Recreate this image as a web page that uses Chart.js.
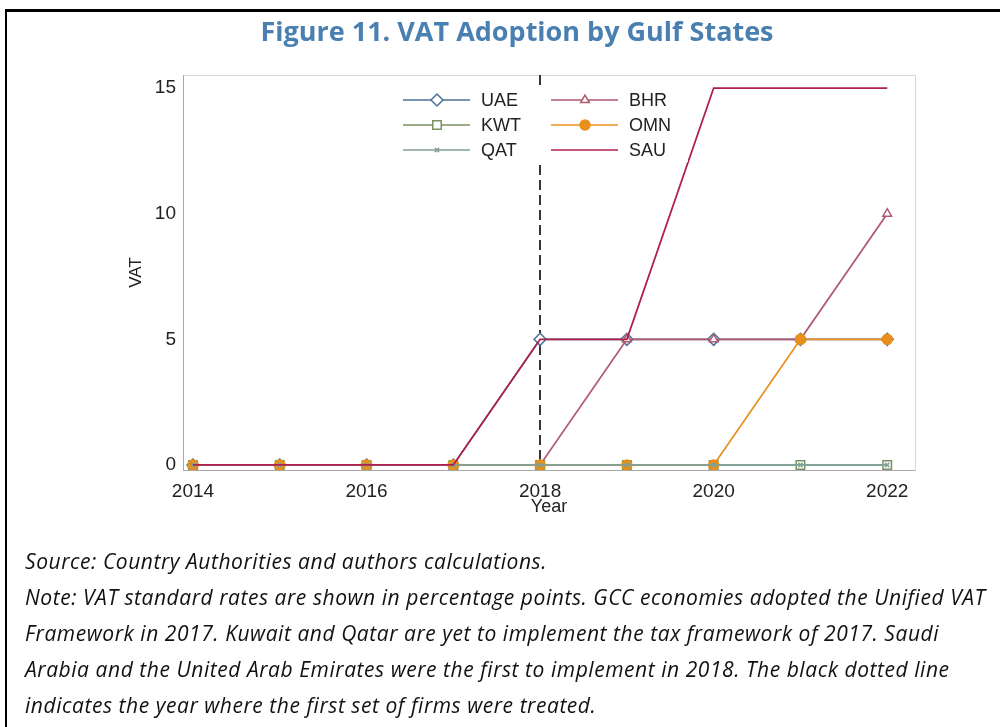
<!DOCTYPE html>
<html>
<head>
<meta charset="utf-8">
<script src="https://cdn.jsdelivr.net/npm/chart.js@4.4.1/dist/chart.umd.min.js"></script>
<style>
  html, body { margin: 0; padding: 0; background: #fff; }
  body { width: 1000px; height: 727px; position: relative; overflow: hidden; }
  #chart { position: absolute; left: 0; top: 0; }
  .frame-top { position: absolute; left: 5px; top: 9px; width: 995px; height: 3px; background: #000; }
  .frame-left { position: absolute; left: 5px; top: 9px; width: 2px; height: 718px; background: #000; }
  .title { position: absolute; left: 0; width: 1034px; top: 12px; text-align: center;
           font-family: "Open Sans", sans-serif; font-weight: 700; font-size: 27px;
           color: #4a7fb1; }
  .notes { position: absolute; left: 25px; top: 543px; width: 975px;
           font-family: "Open Sans", sans-serif; font-style: italic; font-size: 21px;
           letter-spacing: 0.55px; line-height: 36px; color: #111; }
  .notes div { white-space: nowrap; }
</style>
</head>
<body>
<canvas id="chart" width="1000" height="727"></canvas>
<div class="frame-top"></div>
<div class="frame-left"></div>
<div class="title">Figure 11. VAT Adoption by Gulf States</div>
<div class="notes">
  <div>Source: Country Authorities and authors calculations.</div>
  <div>Note: VAT standard rates are shown in percentage points. GCC economies adopted the Unified VAT</div>
  <div>Framework in 2017. Kuwait and Qatar are yet to implement the tax framework of 2017. Saudi</div>
  <div>Arabia and the United Arab Emirates were the first to implement in 2018. The black dotted line</div>
  <div>indicates the year where the first set of firms were treated.</div>
</div>
<script>
// data
const years = [2014, 2015, 2016, 2017, 2018, 2019, 2020, 2021, 2022]
const uae = [0, 0, 0, 0, 5, 5, 5, 5, 5]
const bhr = [0, 0, 0, 0, 0, 5, 5, 5, 10]
const kwt = [0, 0, 0, 0, 0, 0, 0, 0, 0]
const omn = [0, 0, 0, 0, 0, 0, 0, 5, 5]
const qat = [0, 0, 0, 0, 0, 0, 0, 0, 0]
const sau = [0, 0, 0, 0, 5, 5, 15, 15, 15]
const xTicks = [2014, 2016, 2018, 2020, 2022]
const yTicks = [0, 5, 10, 15]
const firstTreated = 2018

const toPoints = (vals) => years.map((x, i) => ({ x: x, y: vals[i] }))
const axisFont = '"Liberation Sans", Arial, sans-serif'

// legend layout follows Stata's two-column order
const series = [
  { label: 'UAE', data: uae, color: '#4b7299', style: 'rectRot', radius: 6, fill: '#fff', col: 0, row: 0, order: 6 },
  { label: 'BHR', data: bhr, color: '#b25a70', style: 'triangle', radius: 5, fill: '#fff', col: 1, row: 0, order: 5 },
  { label: 'KWT', data: kwt, color: '#7a9160', style: 'rect', radius: 6, fill: '#fff', col: 0, row: 1, order: 4 },
  { label: 'OMN', data: omn, color: '#e8901b', style: 'circle', radius: 5, fill: '#e8901b', col: 1, row: 1, order: 3 },
  { label: 'QAT', data: qat, color: '#80a197', style: 'crossRot', radius: 3, fill: '#fff', col: 0, row: 2, order: 2 },
  { label: 'SAU', data: sau, color: '#b01f4e', style: false, radius: 0, fill: '#fff', col: 1, row: 2, order: 1 }
]

const framePlugin = {
  id: 'frame',
  beforeDatasetsDraw(chart) {
    const { ctx, chartArea: a, scales } = chart
    ctx.save()
    ctx.strokeStyle = '#d6d6d6'
    ctx.lineWidth = 1
    ctx.strokeRect(a.left + 0.5, a.top + 0.5, a.right - a.left, a.bottom - a.top)
    ctx.strokeStyle = '#a8a8a8'
    ctx.beginPath()
    ctx.moveTo(a.left + 0.5, a.top)
    ctx.lineTo(a.left + 0.5, a.bottom + 0.5)
    ctx.lineTo(a.right, a.bottom + 0.5)
    ctx.stroke()
    // dashed marker for first treated year
    const x = Math.round(scales.x.getPixelForValue(firstTreated))
    ctx.strokeStyle = '#222'
    ctx.lineWidth = 1.8
    ctx.setLineDash([10, 5])
    ctx.beginPath()
    ctx.moveTo(x, a.top)
    ctx.lineTo(x, a.bottom)
    ctx.stroke()
    ctx.restore()
  }
}

const legendPlugin = {
  id: 'stataLegend',
  afterDatasetsDraw(chart) {
    const ctx = chart.ctx
    ctx.save()
    ctx.fillStyle = '#fff'
    ctx.fillRect(396, 87, 292, 75)
    ctx.font = '18px ' + axisFont
    ctx.textBaseline = 'middle'
    series.forEach(s => {
      const x0 = 403 + s.col * 148
      const y = 100 + s.row * 25
      ctx.strokeStyle = s.color
      ctx.lineWidth = 1.6
      ctx.beginPath()
      ctx.moveTo(x0, y)
      ctx.lineTo(x0 + 67, y)
      ctx.stroke()
      if (s.style) {
        ctx.fillStyle = s.fill
        ctx.lineWidth = 1.5
        Chart.helpers.drawPoint(ctx, { pointStyle: s.style, radius: s.radius, rotation: 0, borderWidth: 1.5 }, x0 + 34, y)
      }
      ctx.fillStyle = '#222'
      ctx.fillText(s.label, x0 + 78, y + 1)
    })
    ctx.restore()
  }
}

const ctx = document.getElementById('chart')
new Chart(ctx, {
  type: 'line',
  data: {
    datasets: series.map(s => ({
      label: s.label,
      data: toPoints(s.data),
      borderColor: s.color,
      borderWidth: 1.8,
      pointStyle: s.style,
      pointRadius: s.radius,
      pointBorderWidth: 1.5,
      pointBorderColor: s.color,
      pointBackgroundColor: s.fill,
      order: s.order,
      tension: 0
    }))
  },
  options: {
    responsive: false,
    animation: false,
    layout: { padding: { top: 75, right: 85, bottom: 209, left: 126 } },
    plugins: { legend: { display: false }, tooltip: { enabled: false } },
    scales: {
      x: {
        type: 'linear',
        min: 2013.885,
        max: 2022.32,
        afterBuildTicks: (scale) => { scale.ticks = xTicks.map(v => ({ value: v })) },
        afterFit: (scale) => { scale.height = 48 },
        grid: { display: false, drawTicks: false },
        border: { display: false },
        ticks: {
          padding: 10,
          maxRotation: 0,
          color: '#222',
          font: { family: axisFont, size: 19 },
          callback: (v) => String(v)
        },
        title: {
          display: true,
          text: 'Year',
          color: '#222',
          padding: { top: 0, bottom: 0 },
          font: { family: axisFont, size: 18 }
        }
      },
      y: {
        min: -0.2,
        max: 15.52,
        afterBuildTicks: (scale) => { scale.ticks = yTicks.map(v => ({ value: v })) },
        afterFit: (scale) => { scale.width = 183 - 126 },
        grid: { display: false, drawTicks: false },
        border: { display: false },
        ticks: {
          padding: 7,
          color: '#222',
          font: { family: axisFont, size: 19 }
        },
        title: {
          display: true,
          text: 'VAT',
          color: '#222',
          padding: { top: 0, bottom: 0 },
          font: { family: axisFont, size: 17 }
        }
      }
    }
  },
  plugins: [framePlugin, legendPlugin]
})
</script>
</body>
</html>
